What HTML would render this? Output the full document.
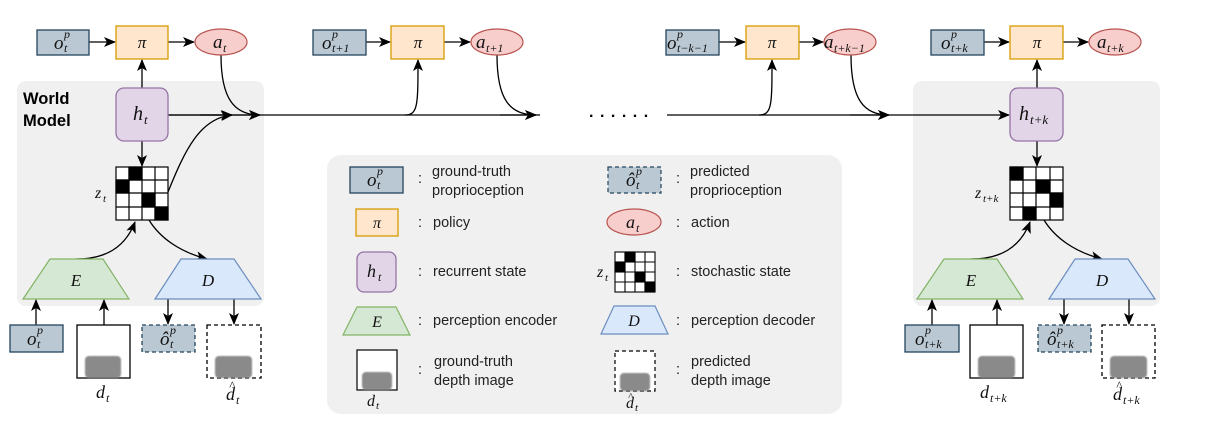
<!DOCTYPE html>
<html><head><meta charset="utf-8"><style>
html,body{margin:0;padding:0;background:#fff;}
svg{display:block;}
.m{font-family:"Liberation Serif",serif;font-style:italic;fill:#111;}
.s{font-family:"Liberation Sans",sans-serif;fill:#222;font-size:14.5px;}
</style></head><body>
<svg width="1209" height="422" viewBox="0 0 1209 422" xmlns="http://www.w3.org/2000/svg">
<defs>
<marker id="ar" markerWidth="12" markerHeight="10" refX="11" refY="5" orient="auto" markerUnits="userSpaceOnUse">
<path d="M0,0 L12,5 L0,10 L3,5 z" fill="#000"/>
</marker>
<filter id="bl"><feGaussianBlur stdDeviation="0.8"/></filter>
</defs>

<rect x="17" y="81" width="247" height="225" rx="9" fill="#f0f0f0"/>
<rect x="913" y="81" width="247" height="225" rx="9" fill="#f0f0f0"/>
<rect x="327" y="155" width="515" height="259" rx="14" fill="#f0f0f0"/>

<text x="23" y="104" font-family="Liberation Sans,sans-serif" font-weight="bold" font-size="16.5" fill="#000">World</text>
<text x="23" y="126" font-family="Liberation Sans,sans-serif" font-weight="bold" font-size="16.5" fill="#000">Model</text>

<g stroke="#000" stroke-width="1.3" fill="none">
<line x1="89" y1="42" x2="115" y2="42" marker-end="url(#ar)"/>
<line x1="168" y1="42" x2="194" y2="42" marker-end="url(#ar)"/>
<line x1="142" y1="88" x2="142" y2="60" marker-end="url(#ar)"/>
<line x1="168" y1="115" x2="540" y2="115"/>
<line x1="667" y1="115" x2="1009" y2="115" marker-end="url(#ar)"/>
<line x1="168" y1="115" x2="232" y2="115" marker-end="url(#ar)"/>
<line x1="200" y1="115" x2="260" y2="115" marker-end="url(#ar)"/>
<line x1="500" y1="115" x2="536" y2="115" marker-end="url(#ar)"/>
<line x1="850" y1="115" x2="889" y2="115" marker-end="url(#ar)"/>
<path d="M221,55 C221,100 235,115 260,115" marker-end="url(#ar)"/>
<path d="M168,192 C185,150 200,118 232,115" marker-end="url(#ar)"/>
<line x1="142" y1="141" x2="142" y2="166" marker-end="url(#ar)"/>
<path d="M76,259 C105,259 125,248 135,222" marker-end="url(#ar)"/>
<path d="M149,220 C160,238 180,252 207,259" marker-end="url(#ar)"/>
<line x1="36" y1="325" x2="36" y2="300" marker-end="url(#ar)"/>
<line x1="104" y1="325" x2="104" y2="300" marker-end="url(#ar)"/>
<line x1="168" y1="299" x2="168" y2="324" marker-end="url(#ar)"/>
<line x1="234" y1="299" x2="234" y2="324" marker-end="url(#ar)"/>

<line x1="366" y1="42" x2="390" y2="42" marker-end="url(#ar)"/>
<line x1="444" y1="42" x2="470" y2="42" marker-end="url(#ar)"/>
<path d="M405,115 C418,115 418,105 418,60" marker-end="url(#ar)"/>
<path d="M497,55 C497,100 510,115 536,115" marker-end="url(#ar)"/>
<line x1="719" y1="42" x2="745" y2="42" marker-end="url(#ar)"/>
<line x1="799" y1="42" x2="823" y2="42" marker-end="url(#ar)"/>
<path d="M759,115 C772,115 772,105 772,60" marker-end="url(#ar)"/>
<path d="M851,55 C851,100 864,115 889,115" marker-end="url(#ar)"/>

<line x1="984" y1="42" x2="1009" y2="42" marker-end="url(#ar)"/>
<line x1="1063" y1="42" x2="1088" y2="42" marker-end="url(#ar)"/>
<line x1="1037" y1="88" x2="1037" y2="60" marker-end="url(#ar)"/>
<line x1="1037" y1="141" x2="1037" y2="166" marker-end="url(#ar)"/>
<path d="M971,259 C1000,259 1020,248 1030,222" marker-end="url(#ar)"/>
<path d="M1044,220 C1055,238 1075,252 1102,259" marker-end="url(#ar)"/>
<line x1="932" y1="325" x2="932" y2="300" marker-end="url(#ar)"/>
<line x1="997" y1="325" x2="997" y2="300" marker-end="url(#ar)"/>
<line x1="1064" y1="299" x2="1064" y2="324" marker-end="url(#ar)"/>
<line x1="1129" y1="299" x2="1129" y2="324" marker-end="url(#ar)"/>
</g>
<text x="589" y="117" font-family="Liberation Sans,sans-serif" font-size="16" font-weight="bold" fill="#000" letter-spacing="6.5">......</text>

<rect x="37" y="30" width="52" height="25" fill="#bac8d3" stroke="#23445d" stroke-width="1.3"/>
<text class="m" x="54" y="49" font-size="19">o</text><text class="m" x="64" y="38" font-size="12">p</text><text class="m" x="64" y="52" font-size="12">t</text>
<rect x="116" y="26" width="52" height="33" fill="#ffe6cc" stroke="#d79b00" stroke-width="1.3"/>
<text class="m" x="142" y="48" font-size="17" text-anchor="middle" font-style="normal">π</text>
<ellipse cx="221" cy="42" rx="26" ry="13" fill="#f8cecc" stroke="#b85450" stroke-width="1.2"/>
<text class="m" x="213" y="48" font-size="19">a</text><text class="m" x="223" y="52" font-size="12">t</text>
<rect x="116" y="88" width="52" height="53" rx="8" fill="#e1d5e7" stroke="#9673a6" stroke-width="1.3"/>
<text class="m" x="133" y="120" font-size="20">h</text><text class="m" x="144" y="124" font-size="13">t</text>
<g stroke="#000" stroke-width="1.2">
<rect x="116" y="167" width="52" height="53" fill="#fff"/>
<rect x="129" y="167" width="13" height="13" fill="#000"/>
<rect x="116" y="180" width="13" height="13" fill="#000"/>
<rect x="142" y="193" width="13" height="14" fill="#000"/>
<rect x="155" y="207" width="13" height="13" fill="#000"/>
<line x1="129" y1="167" x2="129" y2="220"/><line x1="142" y1="167" x2="142" y2="220"/><line x1="155" y1="167" x2="155" y2="220"/>
<line x1="116" y1="180" x2="168" y2="180"/><line x1="116" y1="193" x2="168" y2="193"/><line x1="116" y1="207" x2="168" y2="207"/>
</g>
<text class="m" x="95" y="198" font-size="16">z</text><text class="m" x="103" y="202" font-size="11">t</text>
<polygon points="23,299 50,259 103,259 129,299" fill="#d5e8d4" stroke="#82b366" stroke-width="1.2"/>
<text class="m" x="76" y="286" font-size="17" text-anchor="middle">E</text>
<polygon points="155,299 181,259 234,259 261,299" fill="#dae8fc" stroke="#6c8ebf" stroke-width="1.2"/>
<text class="m" x="208" y="286" font-size="17" text-anchor="middle">D</text>
<rect x="10" y="325" width="53" height="27" fill="#bac8d3" stroke="#23445d" stroke-width="1.3"/>
<text class="m" x="27" y="345" font-size="19">o</text><text class="m" x="37" y="334" font-size="12">p</text><text class="m" x="37" y="348" font-size="12">t</text>
<rect x="77" y="325" width="53" height="53" fill="#fff" stroke="#000" stroke-width="1.3"/>
<rect x="85" y="356" width="36" height="22" rx="4" fill="#8a8a8a" filter="url(#bl)"/>
<text class="m" x="96" y="398" font-size="18">d</text><text class="m" x="106" y="402" font-size="12">t</text>
<rect x="142" y="325" width="53" height="27" fill="#bac8d3" stroke="#23445d" stroke-width="1.3" stroke-dasharray="4,3"/>
<text class="m" x="160" y="345" font-size="19">ô</text><text class="m" x="170" y="334" font-size="12">p</text><text class="m" x="170" y="348" font-size="12">t</text>
<rect x="207" y="325" width="54" height="53" fill="#fff" stroke="#000" stroke-width="1.3" stroke-dasharray="4,3"/>
<rect x="215" y="356" width="37" height="22" rx="4" fill="#8a8a8a" filter="url(#bl)"/>
<text class="m" x="226" y="400" font-size="18">d</text><text class="m" x="229" y="390" font-size="13">^</text><text class="m" x="236" y="404" font-size="12">t</text>

<rect x="313" y="30" width="53" height="25" fill="#bac8d3" stroke="#23445d" stroke-width="1.3"/>
<text class="m" x="322" y="49" font-size="19">o</text><text class="m" x="332" y="38" font-size="12">p</text><text class="m" x="332" y="52" font-size="12">t+1</text>
<rect x="391" y="26" width="53" height="33" fill="#ffe6cc" stroke="#d79b00" stroke-width="1.3"/>
<text class="m" x="418" y="48" font-size="17" text-anchor="middle" font-style="normal">π</text>
<ellipse cx="497" cy="42" rx="26" ry="13" fill="#f8cecc" stroke="#b85450" stroke-width="1.2"/>
<text class="m" x="476" y="48" font-size="19">a</text><text class="m" x="486" y="52" font-size="12">t+1</text>

<rect x="666" y="30" width="53" height="25" fill="#bac8d3" stroke="#23445d" stroke-width="1.3"/>
<text class="m" x="667" y="49" font-size="19">o</text><text class="m" x="677" y="38" font-size="12">p</text><text class="m" x="677" y="52" font-size="12">t−k−1</text>
<rect x="746" y="26" width="53" height="33" fill="#ffe6cc" stroke="#d79b00" stroke-width="1.3"/>
<text class="m" x="772" y="48" font-size="17" text-anchor="middle" font-style="normal">π</text>
<ellipse cx="850" cy="42" rx="26" ry="13" fill="#f8cecc" stroke="#b85450" stroke-width="1.2"/>
<text class="m" x="824" y="48" font-size="19">a</text><text class="m" x="834" y="52" font-size="12">t+k−1</text>

<rect x="931" y="30" width="53" height="25" fill="#bac8d3" stroke="#23445d" stroke-width="1.3"/>
<text class="m" x="941" y="49" font-size="19">o</text><text class="m" x="951" y="38" font-size="12">p</text><text class="m" x="951" y="52" font-size="12">t+k</text>
<rect x="1010" y="26" width="53" height="33" fill="#ffe6cc" stroke="#d79b00" stroke-width="1.3"/>
<text class="m" x="1037" y="48" font-size="17" text-anchor="middle" font-style="normal">π</text>
<ellipse cx="1115" cy="42" rx="26" ry="13" fill="#f8cecc" stroke="#b85450" stroke-width="1.2"/>
<text class="m" x="1097" y="48" font-size="19">a</text><text class="m" x="1107" y="52" font-size="12">t+k</text>
<rect x="1010" y="88" width="53" height="53" rx="8" fill="#e1d5e7" stroke="#9673a6" stroke-width="1.3"/>
<text class="m" x="1019" y="120" font-size="20">h</text><text class="m" x="1030" y="124" font-size="13">t+k</text>
<g stroke="#000" stroke-width="1.2">
<rect x="1010" y="167" width="53" height="53" fill="#fff"/>
<rect x="1010" y="167" width="13" height="13" fill="#000"/>
<rect x="1036" y="180" width="14" height="13" fill="#000"/>
<rect x="1050" y="193" width="13" height="14" fill="#000"/>
<rect x="1023" y="207" width="13" height="13" fill="#000"/>
<line x1="1023" y1="167" x2="1023" y2="220"/><line x1="1036" y1="167" x2="1036" y2="220"/><line x1="1050" y1="167" x2="1050" y2="220"/>
<line x1="1010" y1="180" x2="1063" y2="180"/><line x1="1010" y1="193" x2="1063" y2="193"/><line x1="1010" y1="207" x2="1063" y2="207"/>
</g>
<text class="m" x="975" y="198" font-size="16">z</text><text class="m" x="983" y="202" font-size="11">t+k</text>
<polygon points="917,299 944,259 997,259 1023,299" fill="#d5e8d4" stroke="#82b366" stroke-width="1.2"/>
<text class="m" x="971" y="286" font-size="17" text-anchor="middle">E</text>
<polygon points="1049,299 1075,259 1128,259 1155,299" fill="#dae8fc" stroke="#6c8ebf" stroke-width="1.2"/>
<text class="m" x="1102" y="286" font-size="17" text-anchor="middle">D</text>
<rect x="905" y="325" width="54" height="27" fill="#bac8d3" stroke="#23445d" stroke-width="1.3"/>
<text class="m" x="915" y="345" font-size="19">o</text><text class="m" x="925" y="334" font-size="12">p</text><text class="m" x="925" y="348" font-size="12">t+k</text>
<rect x="970" y="325" width="53" height="53" fill="#fff" stroke="#000" stroke-width="1.3"/>
<rect x="978" y="356" width="37" height="22" rx="4" fill="#8a8a8a" filter="url(#bl)"/>
<text class="m" x="980" y="398" font-size="18">d</text><text class="m" x="990" y="402" font-size="12">t+k</text>
<rect x="1038" y="325" width="53" height="27" fill="#bac8d3" stroke="#23445d" stroke-width="1.3" stroke-dasharray="4,3"/>
<text class="m" x="1047" y="345" font-size="19">ô</text><text class="m" x="1057" y="334" font-size="12">p</text><text class="m" x="1057" y="348" font-size="12">t+k</text>
<rect x="1102" y="325" width="53" height="53" fill="#fff" stroke="#000" stroke-width="1.3" stroke-dasharray="4,3"/>
<rect x="1110" y="356" width="37" height="22" rx="4" fill="#8a8a8a" filter="url(#bl)"/>
<text class="m" x="1113" y="400" font-size="18">d</text><text class="m" x="1116" y="390" font-size="13">^</text><text class="m" x="1123" y="404" font-size="12">t+k</text>

<rect x="350" y="167" width="53" height="26" fill="#bac8d3" stroke="#23445d" stroke-width="1.3"/>
<text class="m" x="367" y="186" font-size="19">o</text><text class="m" x="377" y="175" font-size="12">p</text><text class="m" x="377" y="189" font-size="12">t</text>
<text class="s" x="418" y="183">:</text>
<text class="s" x="432" y="176">ground-truth</text><text class="s" x="432" y="195">proprioception</text>

<rect x="608" y="167" width="53" height="26" fill="#bac8d3" stroke="#23445d" stroke-width="1.2" stroke-dasharray="4,3"/>
<text class="m" x="626" y="186" font-size="19">ô</text><text class="m" x="636" y="175" font-size="12">p</text><text class="m" x="636" y="189" font-size="12">t</text>
<text class="s" x="676" y="183">:</text>
<text class="s" x="690" y="176">predicted</text><text class="s" x="690" y="195">proprioception</text>

<rect x="356" y="209" width="42" height="27" fill="#ffe6cc" stroke="#d79b00" stroke-width="1.3"/>
<text class="m" x="377" y="228" font-size="16" text-anchor="middle" font-style="normal">π</text>
<text class="s" x="418" y="227">:</text><text class="s" x="433" y="227">policy</text>
<ellipse cx="634" cy="222" rx="27" ry="13" fill="#f8cecc" stroke="#b85450" stroke-width="1.2"/>
<text class="m" x="626" y="228" font-size="18">a</text><text class="m" x="636" y="232" font-size="12">t</text>
<text class="s" x="676" y="227">:</text><text class="s" x="691" y="227">action</text>

<rect x="357" y="252" width="39" height="40" rx="7" fill="#e1d5e7" stroke="#9673a6" stroke-width="1.3"/>
<text class="m" x="367" y="277" font-size="18">h</text><text class="m" x="378" y="281" font-size="12">t</text>
<text class="s" x="418" y="276">:</text><text class="s" x="433" y="276">recurrent state</text>
<g stroke="#000" stroke-width="1.1">
<rect x="615" y="252" width="40" height="40" fill="#fff"/>
<rect x="625" y="252" width="10" height="10" fill="#000"/>
<rect x="615" y="262" width="10" height="10" fill="#000"/>
<rect x="635" y="272" width="10" height="10" fill="#000"/>
<rect x="645" y="282" width="10" height="10" fill="#000"/>
<line x1="625" y1="252" x2="625" y2="292"/><line x1="635" y1="252" x2="635" y2="292"/><line x1="645" y1="252" x2="645" y2="292"/>
<line x1="615" y1="262" x2="655" y2="262"/><line x1="615" y1="272" x2="655" y2="272"/><line x1="615" y1="282" x2="655" y2="282"/>
</g>
<text class="m" x="597" y="277" font-size="16">z</text><text class="m" x="605" y="281" font-size="11">t</text>
<text class="s" x="676" y="276">:</text><text class="s" x="691" y="276">stochastic state</text>

<polygon points="343,335 357,307 396,307 410,335" fill="#d5e8d4" stroke="#82b366" stroke-width="1.2"/>
<text class="m" x="377" y="327" font-size="16" text-anchor="middle">E</text>
<text class="s" x="418" y="325">:</text><text class="s" x="433" y="325">perception encoder</text>
<polygon points="601,334 614,306 655,306 668,334" fill="#dae8fc" stroke="#6c8ebf" stroke-width="1.2"/>
<text class="m" x="634" y="326" font-size="16" text-anchor="middle">D</text>
<text class="s" x="676" y="325">:</text><text class="s" x="691" y="325">perception decoder</text>

<rect x="357" y="350" width="40" height="40" fill="#fff" stroke="#000" stroke-width="1.2"/>
<rect x="362" y="372" width="30" height="18" rx="4" fill="#8a8a8a" filter="url(#bl)"/>
<text class="m" x="367" y="406" font-size="16">d</text><text class="m" x="376" y="409" font-size="11">t</text>
<text class="s" x="418" y="374">:</text>
<text class="s" x="434" y="366">ground-truth</text><text class="s" x="434" y="385">depth image</text>
<rect x="615" y="351" width="40" height="40" fill="#fff" stroke="#000" stroke-width="1.2" stroke-dasharray="4,3"/>
<rect x="620" y="373" width="30" height="18" rx="4" fill="#8a8a8a" filter="url(#bl)"/>
<text class="m" x="626" y="408" font-size="16">d</text><text class="m" x="628" y="400" font-size="11">^</text><text class="m" x="635" y="411" font-size="11">t</text>
<text class="s" x="676" y="374">:</text>
<text class="s" x="691" y="366">predicted</text><text class="s" x="691" y="385">depth image</text>
</svg>
</body></html>
